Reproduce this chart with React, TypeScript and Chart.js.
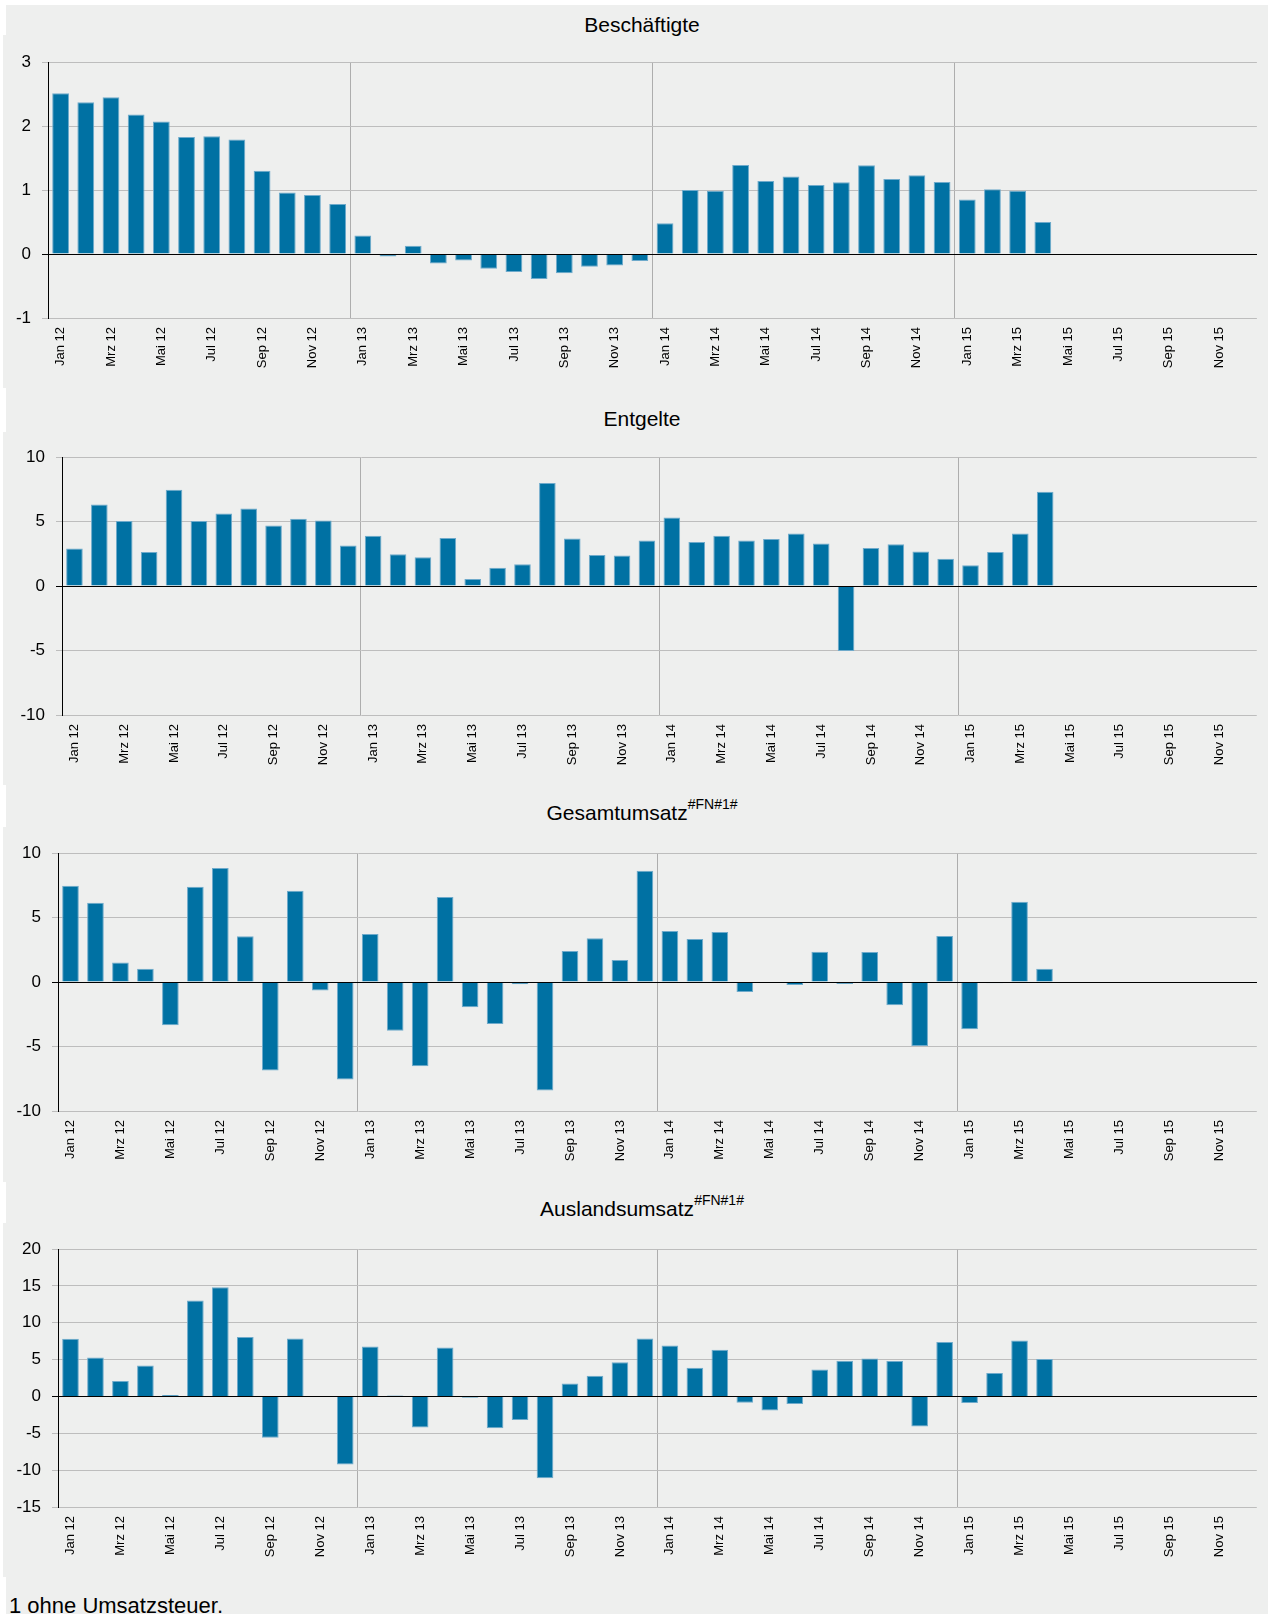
import React, { useEffect, useRef } from 'react';
import { Chart, registerables } from 'chart.js';

Chart.register(...registerables);

// ---------- data ----------
const categories: string[] = [
  'Jan 12', 'Feb 12', 'Mrz 12', 'Apr 12', 'Mai 12', 'Jun 12', 'Jul 12', 'Aug 12', 'Sep 12', 'Okt 12', 'Nov 12', 'Dez 12',
  'Jan 13', 'Feb 13', 'Mrz 13', 'Apr 13', 'Mai 13', 'Jun 13', 'Jul 13', 'Aug 13', 'Sep 13', 'Okt 13', 'Nov 13', 'Dez 13',
  'Jan 14', 'Feb 14', 'Mrz 14', 'Apr 14', 'Mai 14', 'Jun 14', 'Jul 14', 'Aug 14', 'Sep 14', 'Okt 14', 'Nov 14', 'Dez 14',
  'Jan 15', 'Feb 15', 'Mrz 15', 'Apr 15', 'Mai 15', 'Jun 15', 'Jul 15', 'Aug 15', 'Sep 15', 'Okt 15', 'Nov 15', 'Dez 15',
];

const beschaeftigte: (number | null)[] = [
  2.51, 2.37, 2.45, 2.18, 2.07, 1.83, 1.84, 1.79, 1.30, 0.96, 0.92, 0.78,
  0.29, -0.04, 0.13, -0.15, -0.10, -0.23, -0.28, -0.39, -0.30, -0.20, -0.18, -0.11,
  0.48, 1.00, 0.99, 1.39, 1.14, 1.21, 1.08, 1.12, 1.385, 1.17, 1.23, 1.125,
  0.85, 1.01, 0.99, 0.50, null, null, null, null, null, null, null, null,
];

const entgelte: (number | null)[] = [
  2.90, 6.32, 5.03, 2.64, 7.46, 5.03, 5.62, 6.01, 4.69, 5.21, 5.08, 3.13,
  3.89, 2.46, 2.23, 3.73, 0.54, 1.42, 1.68, 7.98, 3.68, 2.41, 2.36, 3.52,
  5.31, 3.42, 3.89, 3.52, 3.65, 4.07, 3.29, -5.03, 2.95, 3.24, 2.67, 2.12,
  1.61, 2.64, 4.07, 7.31, null, null, null, null, null, null, null, null,
];

const gesamtumsatz: (number | null)[] = [
  7.47, 6.15, 1.52, 1.03, -3.36, 7.39, 8.84, 3.54, -6.87, 7.08, -0.65, -7.55,
  3.72, -3.77, -6.54, 6.59, -1.96, -3.26, -0.18, -8.42, 2.40, 3.39, 1.71, 8.63,
  3.95, 3.33, 3.88, -0.78, -0.08, -0.23, 2.35, -0.15, 2.33, -1.81, -4.96, 3.57,
  -3.67, -0.10, 6.23, 1.03, null, null, null, null, null, null, null, null,
];

const auslandsumsatz: (number | null)[] = [
  7.83, 5.29, 2.08, 4.21, 0.18, 13.03, 14.80, 8.05, -5.61, 7.87, 0.05, -9.23,
  6.79, 0.14, -4.21, 6.65, -0.18, -4.30, -3.21, -11.09, 1.76, 2.81, 4.62, 7.87,
  6.92, 3.89, 6.33, -0.86, -1.90, -1.04, 3.67, 4.84, 5.16, 4.80, -4.07, 7.38,
  -0.90, 3.17, 7.60, 5.07, null, null, null, null, null, null, null, null,
];

const titles: string[] = ['Beschäftigte', 'Entgelte', 'Gesamtumsatz', 'Auslandsumsatz'];
const footnoteMark = '#FN#1#';
const footnoteText = '1 ohne Umsatzsteuer.';

// ---------- styling / layout ----------
const W = 1269;
const FONT = "'Liberation Sans', Arial, Helvetica, sans-serif";
const BAR = '#0071a3';
const BAR_EDGE = '#6eaacb';
const H_GRID = '#bdbdbd';
const V_GRID = '#adadad';
const BG = '#eeefee';

type PanelCfg = {
  data: (number | null)[];
  min: number;
  max: number;
  step: number;
  top: number;
  height: number;
  plotLeft: number;
  plotRight: number;
  plotTop: number;
  plotBottom: number;
  titleTop: number;
  title: string;
  fn: boolean;
};

const panels: PanelCfg[] = [
  { data: beschaeftigte, min: -1, max: 3, step: 1, top: 35, height: 353, plotLeft: 48, plotRight: 1259, plotTop: 62, plotBottom: 318, titleTop: 14, title: titles[0], fn: false },
  { data: entgelte, min: -10, max: 10, step: 5, top: 432, height: 353, plotLeft: 62, plotRight: 1261, plotTop: 457, plotBottom: 715, titleTop: 408, title: titles[1], fn: false },
  { data: gesamtumsatz, min: -10, max: 10, step: 5, top: 827, height: 355, plotLeft: 58, plotRight: 1261, plotTop: 853, plotBottom: 1111, titleTop: 802, title: titles[2], fn: true },
  { data: auslandsumsatz, min: -15, max: 20, step: 5, top: 1223, height: 354, plotLeft: 58, plotRight: 1261, plotTop: 1249, plotBottom: 1507, titleTop: 1198, title: titles[3], fn: true },
];

const zeroLinePlugin = {
  id: 'zeroLine',
  afterDatasetsDraw(chart: any) {
    const yScale = chart.scales.y;
    const y = Math.round(yScale.getPixelForValue(0) - 0.5) + 0.5;
    const { left, right } = chart.chartArea;
    const ctx = chart.ctx;
    ctx.save();
    ctx.strokeStyle = '#000';
    ctx.lineWidth = 1;
    ctx.beginPath();
    ctx.moveTo(left, y);
    ctx.lineTo(right, y);
    ctx.stroke();
    ctx.restore();
  },
};

function BarPanel({ cfg }: { cfg: PanelCfg }) {
  const ref = useRef<HTMLCanvasElement>(null);
  useEffect(() => {
    const chart = new Chart(ref.current as HTMLCanvasElement, {
      type: 'bar',
      data: {
        labels: categories,
        datasets: [
          {
            data: cfg.data as any,
            backgroundColor: BAR,
            borderColor: BAR_EDGE,
            borderWidth: 1,
            borderSkipped: 'start',
            barPercentage: 0.667,
            categoryPercentage: 1,
          },
        ],
      },
      options: {
        responsive: false,
        maintainAspectRatio: false,
        animation: false,
        devicePixelRatio: 1,
        layout: { padding: { top: cfg.plotTop - cfg.top, right: W - cfg.plotRight, left: 0, bottom: 0 } },
        plugins: {
          legend: { display: false },
          tooltip: { enabled: false },
          title: { display: false },
        },
        scales: {
          x: {
            offset: true,
            grid: {
              offset: true,
              drawTicks: false,
              lineWidth: 1,
              color: (ctx: any) => (ctx.index % 12 === 0 ? V_GRID : 'rgba(0,0,0,0)'),
            },
            border: { display: false },
            ticks: {
              autoSkip: false,
              minRotation: 90,
              maxRotation: 90,
              padding: 9,
              color: '#000',
              font: { family: FONT, size: 13 },
              callback: (_v: any, i: number) => (i % 2 === 0 ? categories[i] : ''),
            },
            afterFit: (s: any) => {
              s.height = cfg.top + cfg.height - cfg.plotBottom;
            },
          },
          y: {
            min: cfg.min,
            max: cfg.max,
            ticks: {
              stepSize: cfg.step,
              padding: 11,
              color: '#000',
              font: { family: FONT, size: 17 },
            },
            grid: {
              tickLength: 6,
              lineWidth: 1,
              color: (ctx: any) => (ctx.tick && ctx.tick.value === 0 ? '#000' : H_GRID),
            },
            border: { color: '#000', width: 1, z: 1 } as any,
            afterFit: (s: any) => {
              s.width = cfg.plotLeft;
            },
          },
        },
      } as any,
      plugins: [zeroLinePlugin],
    });
    return () => chart.destroy();
  }, [cfg]);
  return (
    <canvas
      ref={ref}
      width={W}
      height={cfg.height}
      style={{ position: 'absolute', left: 0, top: cfg.top, width: W, height: cfg.height }}
    />
  );
}

export default function App() {
  return (
    <div style={{ position: 'absolute', left: 0, top: 0, width: W, height: 1614, background: '#fff', overflow: 'hidden', fontFamily: FONT }}>
      <div style={{ position: 'absolute', left: 6, top: 5, width: 1262, height: 1609, background: BG }} />
      {panels.map((p, i) => (
        <div key={'s' + i} style={{ position: 'absolute', left: 3, top: p.top, width: 4, height: p.height, background: BG }} />
      ))}
      {panels.map((p, i) => (
        <div
          key={'t' + i}
          style={{
            position: 'absolute',
            left: 0,
            top: p.titleTop,
            width: 1284,
            textAlign: 'center',
            fontSize: 21,
            lineHeight: '21px',
            color: '#000',
            whiteSpace: 'nowrap',
          }}
        >
          {p.title}
          {p.fn ? (
            <span style={{ fontSize: 14, position: 'relative', top: -11, lineHeight: 0 }}>{footnoteMark}</span>
          ) : null}
        </div>
      ))}
      {panels.map((p, i) => (
        <BarPanel key={'c' + i} cfg={p} />
      ))}
      <div style={{ position: 'absolute', left: 9, top: 1595, fontSize: 22, lineHeight: '22px', color: '#000', whiteSpace: 'nowrap' }}>
        {footnoteText}
      </div>
    </div>
  );
}
